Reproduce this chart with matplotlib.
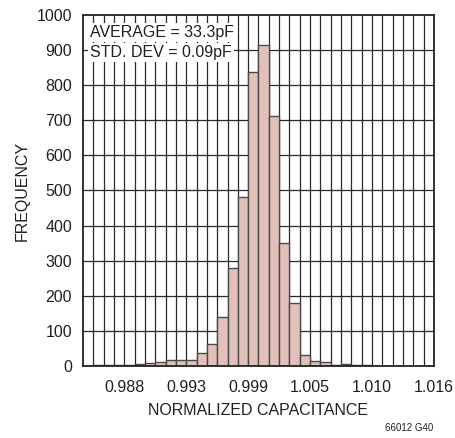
import matplotlib
matplotlib.use("Agg")
import matplotlib.pyplot as plt
import numpy as np
from matplotlib import font_manager

# ---- data ----
bin_start = 0.98408
bin_width = 0.00093
counts = [1, 2, 2, 3, 3, 6, 8, 12, 16, 16, 17, 38, 62, 140, 280, 482, 837, 914,
          711, 351, 179, 32, 15, 10, 3, 6, 4, 2, 1, 1, 1, 0, 1, 0]
xtick_bins = [4, 10, 16, 22, 28, 34]
xtick_labels = ["0.988", "0.993", "0.999", "1.005", "1.010", "1.016"]
ytick_values = [0, 100, 200, 300, 400, 500, 600, 700, 800, 900, 1000]
stats_lines = ["AVERAGE = 33.3pF", "STD. DEV = 0.09pF"]

names = {f.name for f in font_manager.fontManager.ttflist}
fam = ["Liberation Sans Narrow", "DejaVu Sans"] if "Liberation Sans Narrow" in names else ["Liberation Sans", "DejaVu Sans"]
plt.rcParams["font.family"] = fam

TXT = "#231f20"

fig = plt.figure(figsize=(4.55, 4.38), dpi=100)
L, R, B, T = 83 / 455, 434 / 455, 1 - 366 / 438, 1 - 15 / 438
ax = fig.add_axes([L, B, R - L, T - B])

n = len(counts)
edges = bin_start + bin_width * np.arange(n + 1)
ax.bar(edges[:-1], counts, width=bin_width, align="edge", color="#E2C0BA",
       edgecolor="#4a4a4a", linewidth=1.0, zorder=3)

ax.set_xlim(edges[0], edges[-1])
ax.set_ylim(0, 1000)

# grid
for e in edges[1:-1]:
    ax.axvline(e, color="#2a2a2a", lw=0.9, zorder=1)
for yv in ytick_values[1:-1]:
    ax.axhline(yv, color="#2a2a2a", lw=0.9, zorder=1)

ax.set_xticks([edges[i] for i in xtick_bins])
ax.set_xticklabels(xtick_labels)
ax.set_yticks(ytick_values)
ax.tick_params(axis="both", length=0, labelsize=11.5, colors=TXT)
ax.tick_params(axis="x", pad=10)
ax.tick_params(axis="y", pad=8)

for s in ax.spines.values():
    s.set_linewidth(1.3)
    s.set_color("#222222")
    s.set_zorder(5)

ax.set_xlabel("NORMALIZED CAPACITANCE", fontsize=11.5, color=TXT, labelpad=6)
ax.set_ylabel("FREQUENCY", fontsize=11.5, color=TXT, labelpad=5)

ax.text(0.02, 0.950, stats_lines[0], transform=ax.transAxes, fontsize=11.5,
        va="center", ha="left", color=TXT, zorder=6,
        bbox=dict(facecolor="white", edgecolor="none", pad=1.5))
ax.text(0.02, 0.892, stats_lines[1], transform=ax.transAxes, fontsize=11.5,
        va="center", ha="left", color=TXT, zorder=6,
        bbox=dict(facecolor="white", edgecolor="none", pad=1.5))

fig.text(433 / 455, 1 - 428 / 438, "66012 G40", fontsize=7, ha="right", va="center", color=TXT)

fig.savefig("out.png", dpi=100)
